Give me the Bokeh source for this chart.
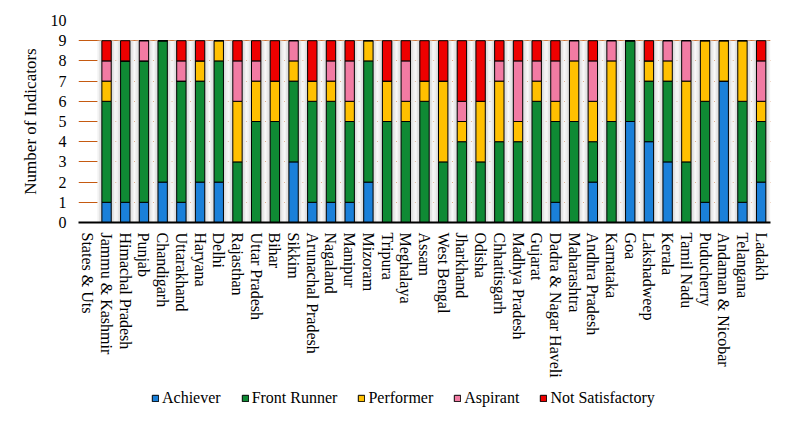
from bokeh.plotting import figure
from bokeh.models import Legend, LegendItem, FixedTicker, ColumnDataSource
from bokeh.layouts import column
from bokeh.embed import file_html
from bokeh.resources import INLINE
import math

states = ["States & Uts", "Jammu & Kashmir", "Himachal Pradesh", "Punjab", "Chandigarh",
          "Uttarakhand", "Haryana", "Delhi", "Rajasthan", "Uttar Pradesh", "Bihar", "Sikkim",
          "Arunachal Pradesh", "Nagaland", "Manipur", "Mizoram", "Tripura", "Meghalaya",
          "Assam", "West Bengal", "Jharkhand", "Odisha", "Chhattisgarh", "Madhya Pradesh",
          "Gujarat", "Dadra & Nagar Haveli", "Maharashtra", "Andhra Pradesh", "Karnataka",
          "Goa", "Lakshadweep", "Kerala", "Tamil Nadu", "Puducherry", "Andaman & Nicobar",
          "Telangana", "Ladakh"]

achiever     = [0, 1, 1, 1, 2, 1, 2, 2, 0, 0, 0, 3, 1, 1, 1, 2, 0, 0, 0, 0, 0, 0, 0, 0, 0, 1, 0, 2, 0, 5, 4, 3, 0, 1, 7, 1, 2]
front_runner = [0, 5, 7, 7, 7, 6, 5, 6, 3, 5, 5, 4, 5, 5, 4, 6, 5, 5, 6, 3, 4, 3, 4, 4, 6, 4, 5, 2, 5, 4, 3, 4, 3, 5, 0, 5, 3]
performer    = [0, 1, 0, 0, 0, 0, 1, 1, 3, 2, 2, 1, 1, 1, 1, 1, 2, 1, 1, 4, 1, 3, 3, 1, 1, 1, 3, 2, 3, 0, 1, 1, 4, 3, 2, 3, 1]
aspirant     = [0, 1, 0, 1, 0, 1, 0, 0, 2, 1, 0, 1, 0, 1, 2, 0, 0, 2, 0, 0, 1, 0, 1, 3, 1, 2, 1, 2, 1, 0, 0, 1, 2, 0, 0, 0, 2]
not_satisf   = [0, 1, 1, 0, 0, 1, 1, 0, 1, 1, 2, 0, 2, 1, 1, 0, 2, 1, 2, 2, 3, 3, 1, 1, 1, 1, 0, 1, 0, 0, 1, 0, 0, 0, 0, 0, 1]

series = ["Achiever", "Front Runner", "Performer", "Aspirant", "Not Satisfactory"]
colors = ["#1a80d9", "#0f8a34", "#ffc000", "#f27ba3", "#ee0000"]
y_ticks = list(range(0, 11))

totals = [a + b + c + d + e for a, b, c, d, e in zip(achiever, front_runner, performer, aspirant, not_satisf)]

src = ColumnDataSource(data={"state": states, "Achiever": achiever, "Front Runner": front_runner,
                             "Performer": performer, "Aspirant": aspirant,
                             "Not Satisfactory": not_satisf, "total": totals})

FONT = "'Liberation Serif', 'Times New Roman', serif"

p = figure(x_range=states, y_range=(0, 10), frame_width=692, frame_height=202,
           output_backend="svg", toolbar_location=None,
           min_border_left=78, min_border_right=3, min_border_top=20, min_border_bottom=158)
p.outline_line_color = None
p.background_fill_color = "white"

# bar "shadow" shading
for w, c in [(0.98, "#f2f2f2"), (0.8, "#e4e4e4"), (0.62, "#d6d6d6")]:
    p.vbar(x="state", top="total", bottom=0, width=w, source=src, fill_color=c, line_color=None)

renderers = p.vbar_stack(series, x="state", width=0.5, source=src, color=colors,
                         line_color="black", line_width=1)

p.ygrid.grid_line_color = "#c55a11"
p.ygrid.grid_line_width = 1.2
p.ygrid.level = "underlay"
p.xgrid.grid_line_color = None
p.yaxis.ticker = FixedTicker(ticks=y_ticks)
p.yaxis.axis_line_color = None
p.yaxis.major_tick_line_color = None
p.yaxis.minor_tick_line_color = None
p.yaxis.major_label_text_font = FONT
p.yaxis.major_label_text_font_size = "16px"
p.yaxis.major_label_text_color = "black"
p.yaxis.major_label_standoff = 6
p.yaxis.axis_label = "Number of Indicators"
p.yaxis.axis_label_text_font = FONT
p.yaxis.axis_label_text_font_size = "17px"
p.yaxis.axis_label_text_font_style = "normal"
p.yaxis.axis_label_text_color = "black"
p.yaxis.axis_label_standoff = 8

p.xaxis.axis_line_color = "black"
p.xaxis.axis_line_width = 2
p.xaxis.major_tick_line_color = None
p.xaxis.minor_tick_line_color = None
p.xaxis.major_label_orientation = -math.pi / 2
p.xaxis.major_label_text_font = FONT
p.xaxis.major_label_text_font_size = "16px"
p.xaxis.major_label_text_color = "black"
p.xaxis.major_label_standoff = 4

# legend strip below the chart
lg = figure(width=773, height=34, x_range=(0, 1), y_range=(0, 1),
            output_backend="svg", toolbar_location=None,
            min_border_left=0, min_border_right=0, min_border_top=0, min_border_bottom=0)
lg.axis.visible = False
lg.grid.grid_line_color = None
lg.outline_line_color = None
hidden = ColumnDataSource(data={"x": [-10], "top": [-10]})
leg_rs = [lg.vbar(x="x", top="top", width=0.1, source=hidden, fill_color=c, line_color="black")
          for c in colors]
legend = Legend(items=[LegendItem(label=s, renderers=[r]) for s, r in zip(series, leg_rs)],
                orientation="horizontal", location=(73, 7),
                label_text_font=FONT, label_text_font_size="16px", label_text_color="black",
                glyph_width=8, glyph_height=8, label_standoff=3, spacing=20,
                border_line_color=None, background_fill_alpha=0, padding=0, margin=0)
lg.add_layout(legend, "center")

layout = column(p, lg, spacing=0)
open("out.html", "w").write(file_html(layout, INLINE))
